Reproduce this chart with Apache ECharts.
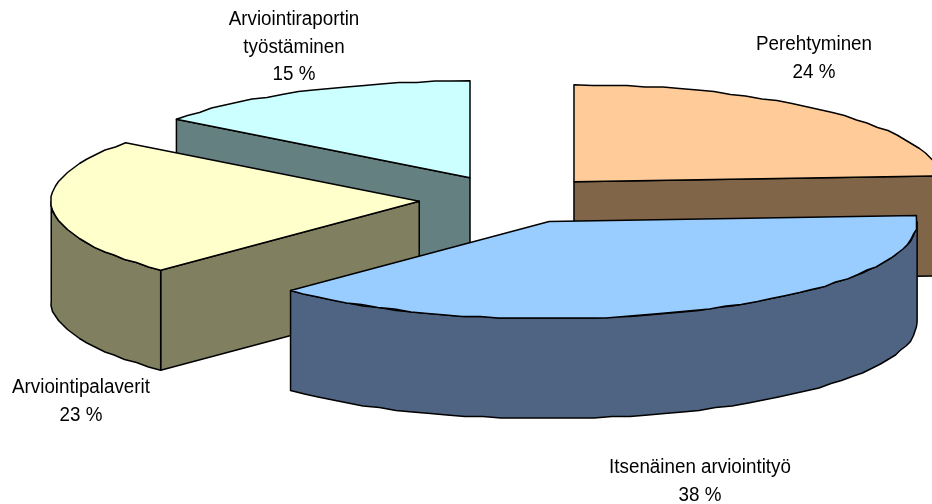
<!DOCTYPE html>
<html>
<head>
<meta charset="utf-8">
<title>Arviointityön jakautuminen</title>
<style>
html, body { margin: 0; padding: 0; background: #fff; }
#chart { width: 932px; height: 504px; }
</style>
<script src="https://cdn.jsdelivr.net/npm/echarts@6/dist/echarts.min.js"></script>
</head>
<body>
<div id="chart"></div>
<script>
// osuudet kello 12:sta myötäpäivään, etiketissä pyöristettynä
var categories = ['Perehtyminen', 'Itsenäinen arviointityö', 'Arviointipalaverit', 'Arviointiraportin\ntyöstäminen'];
var shares = [24.0, 38.4, 22.9, 14.7];
var topColors = ['#ffcc99', '#99ccff', '#ffffcc', '#ccffff'];
var sideColors = ['#806548', '#4f6482', '#808060', '#658080'];
// etiketin keskikohta ja ylälaita
var labelX = [814, 700, 81, 294];
var labelY = [31, 454, 374, 6];
// piirtojärjestys: takaa eteen
var drawOrder = [0, 3, 2, 1];

var CX = 511, CY = 199.5, RX = 368, RY = 97, DEPTH = 100, EXPLODE = 0.25;
var FONT = '"Liberation Sans", Arial, sans-serif';

var total = 0;
shares.forEach(function (v) { total += v; });
var starts = [];
var acc = 0;
shares.forEach(function (v) {
    starts.push(acc / total * 2 * Math.PI);
    acc += v;
});

function ell(cx, cy, a) {
    return [cx + RX * Math.sin(a), cy - RY * Math.cos(a)];
}

// kaari karkealla ruudukolla, alkuperäisen reuna on samalla tavalla porrastunut
function arc(cx, cy, a, b) {
    var pts = [ell(cx, cy, a)];
    var n = Math.max(2, Math.ceil((b - a) / 0.05));
    for (var i = 1; i < n; i++) {
        var p = ell(cx, cy, a + (b - a) * i / n);
        pts.push([Math.round(p[0] / 1.5) * 1.5, Math.round(p[1] / 1.5) * 1.5]);
    }
    pts.push(ell(cx, cy, b));
    return pts;
}

function down(p) {
    return [p[0], p[1] + DEPTH];
}

function poly(points, fill) {
    return {
        type: 'polygon',
        shape: { points: points },
        style: { fill: fill, stroke: '#000', lineWidth: 1.5, lineJoin: 'round' }
    };
}

function plane(cx, cy, t, fill) {
    var p = ell(cx, cy, t);
    return poly([[cx, cy], p, down(p), [cx, cy + DEPTH]], fill);
}

function renderSlice(params, api) {
    var idx = api.value(0);
    var a = starts[idx];
    var b = a + api.value(1) / total * 2 * Math.PI;
    var mid = (a + b) / 2;
    var cx = CX + EXPLODE * RX * Math.sin(mid);
    var cy = CY - EXPLODE * RY * Math.cos(mid);
    var side = sideColors[idx];
    var kids = [];

    // vain katsojaan päin olevat leikkauspinnat
    if (a > Math.PI) {
        kids.push(plane(cx, cy, a, side));
    }
    if (b < Math.PI) {
        kids.push(plane(cx, cy, b, side));
    }

    // ulkoreunan näkyvä osa
    var from = Math.max(a, Math.PI / 2);
    var to = Math.min(b, Math.PI * 3 / 2);
    if (to > from) {
        var rim = arc(cx, cy, from, to);
        kids.push(poly(rim.concat(rim.map(down).reverse()), side));
    }

    // yläpinta
    kids.push(poly([[cx, cy]].concat(arc(cx, cy, a, b)), topColors[idx]));

    return { type: 'group', children: kids };
}

var chart = echarts.init(document.getElementById('chart'));

chart.setOption({
    backgroundColor: '#fff',
    animation: false,
    series: [{
        type: 'custom',
        coordinateSystem: 'none',
        silent: true,
        renderItem: renderSlice,
        data: drawOrder.map(function (i) { return [i, shares[i]]; })
    }],
    graphic: categories.map(function (name, i) {
        return {
            type: 'text',
            x: labelX[i],
            y: labelY[i],
            scaleX: 0.94,
            style: {
                text: name + '\n' + Math.round(shares[i]) + ' %',
                font: '20px ' + FONT,
                fill: '#000',
                align: 'center',
                lineHeight: 27.5
            }
        };
    })
});
</script>
</body>
</html>
